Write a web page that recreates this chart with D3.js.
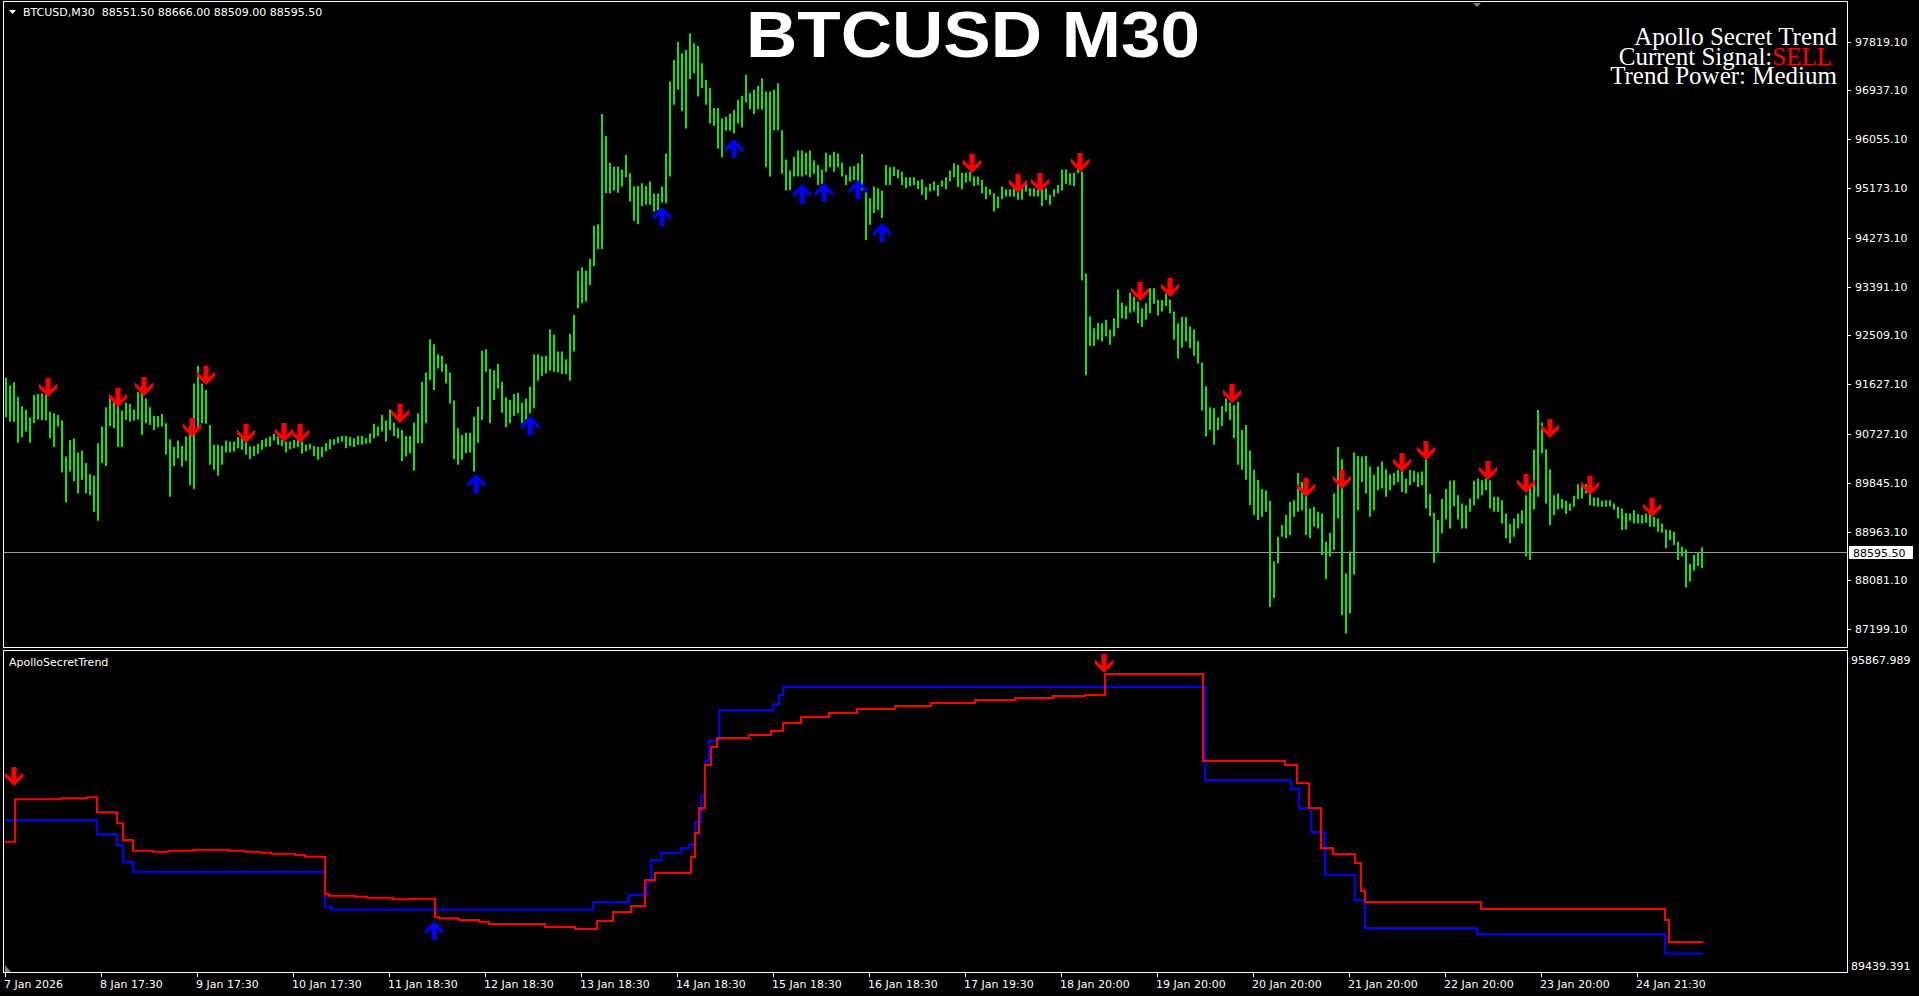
<!DOCTYPE html>
<html><head><meta charset="utf-8">
<script src="https://cdn.jsdelivr.net/npm/d3@7"></script>
<style>html,body{margin:0;padding:0;background:#000;overflow:hidden}</style>
</head><body>
<script>
// ---------------- DATA ----------------
const symbolLine = "BTCUSD,M30  88551.50 88666.00 88509.00 88595.50";
const chartTitle = "BTCUSD M30";
const infoLines = ["Apollo Secret Trend", "Current Signal:", "Trend Power: Medium"];
const signalText = "SELL";
const indicatorName = "ApolloSecretTrend";
const lastPrice = 88595.50;
const priceTicks = [97819.10, 96937.10, 96055.10, 95173.10, 94273.10, 93391.10, 92509.10,
  91627.10, 90727.10, 89845.10, 88963.10, 88081.10, 87199.10];
const indMax = 95867.989, indMin = 89439.391;
const timeLabels = ["7 Jan 2026","8 Jan 17:30","9 Jan 17:30","10 Jan 17:30","11 Jan 18:30",
  "12 Jan 18:30","13 Jan 18:30","14 Jan 18:30","15 Jan 18:30","16 Jan 18:30","17 Jan 19:30",
  "18 Jan 20:00","19 Jan 20:00","20 Jan 20:00","21 Jan 20:00","22 Jan 20:00","23 Jan 20:00","24 Jan 21:30"];
const timeLabelBars = [0,48,96,144,192,240,288,336,384,432,480,528,576,624,672,720,768,816];
const barCount = 850;   // M30 bars; price data below is given per hour (2 bars)

const hi = [
91750,91610,91660,91400,91230,91160,91030,91430,91450,91460,
91460,91130,91100,91070,90970,90320,90620,90650,90390,90430,
90200,90000,89970,90560,90860,91210,91410,91340,91280,91150,
91290,91270,91170,91490,91590,91370,91210,91050,91050,91090,
90920,90630,90490,90610,90510,90680,90860,91640,91960,91640,
91520,90890,90530,90530,90510,90610,90590,90590,90670,90650,
90610,90500,90510,90550,90620,90650,90680,90730,90680,90620,
90590,90590,90620,90650,90590,90530,90550,90510,90490,90490,
90560,90630,90630,90670,90690,90690,90670,90650,90690,90690,
90650,90740,90910,90860,91070,90970,91170,90930,90830,90800,
90690,90690,90930,91100,91670,91840,92440,92350,92170,92140,
91990,91840,91330,90830,90710,90750,90750,91040,91220,92230,
92260,91900,91880,91990,91670,91390,91340,91450,91470,91290,
91370,91580,92170,92170,92130,92140,92620,92520,92220,92220,
92080,92540,92880,93680,93740,93680,93890,94490,94520,96510,
96120,95630,95560,95560,95510,95770,95440,95200,95210,95260,
95210,95290,95080,95080,95200,95800,97100,97490,97820,97610,
97670,97970,97790,97740,97430,97130,96980,96620,96620,96430,
96460,96520,96590,96770,96840,97220,96890,96950,97020,97160,
96920,96920,96950,97070,96220,95690,95490,95740,95850,95850,
95810,95850,95670,95590,95510,95810,95770,95830,95800,95630,
95410,95560,95570,95620,95790,95140,94990,95200,95170,95130,
95590,95550,95560,95510,95470,95370,95370,95370,95310,95330,
95190,95250,95290,95230,95310,95370,95490,95620,95590,95450,
95450,95470,95380,95380,95320,95200,95150,95080,95020,95200,
95150,95150,95200,95110,95200,95270,95170,95170,95150,95200,
95170,95050,95150,95230,95510,95510,95440,95450,95620,95470,
93630,92850,92640,92740,92730,92790,92610,92820,93340,93100,
93040,93280,93210,93120,93000,93090,93360,93360,93150,93150,
93260,93160,92940,92730,92840,92840,92670,92620,92410,92020,
91590,91210,91190,91030,91230,91370,91290,91250,91310,90800,
90890,90430,90080,89900,89730,89710,89520,88420,88870,89080,
89260,89500,89530,90020,89860,89650,89380,89410,89320,89290,
88780,88940,89650,90490,90270,88210,88600,90390,90330,90320,
90330,90140,89990,90140,90230,90090,90000,90020,90080,90230,
89920,90080,90060,90030,90050,90270,89640,89300,89170,89550,
89730,89880,89890,89620,89470,89440,89560,89880,89920,89890,
89920,89890,89590,89590,89530,89290,89100,89200,89290,89350,
89620,89770,90440,91160,90930,90450,90090,89620,89650,89550,
89520,89470,89610,89820,89800,89820,89710,89580,89580,89520,
89530,89530,89470,89410,89380,89300,89290,89350,89280,89260,
89290,89300,89230,89200,89110,89000,88990,88960,88780,88690,
88640,88380,88540,88570,88680];

const lo = [
91030,90950,90950,90570,90670,90770,90570,90920,90990,90980,
90970,90650,90490,90860,90030,89490,90050,89870,89650,89900,
89650,89620,89320,89160,90200,90150,90870,90830,90490,90490,
90980,90950,90970,90990,90710,90920,90890,90800,90850,90860,
90350,89590,90150,90290,90140,90240,89800,89730,90830,90920,
90910,90170,90080,89970,90170,90390,90390,90410,90470,90440,
90350,90270,90330,90370,90440,90490,90500,90610,90530,90510,
90390,90450,90470,90490,90370,90410,90450,90330,90260,90310,
90410,90450,90530,90560,90590,90470,90510,90490,90530,90530,
90550,90560,90650,90690,90770,90590,90800,90690,90650,90240,
90320,90380,90060,90560,90560,90920,91700,91520,91910,91850,
91640,91280,90270,90170,90260,90380,90390,90050,90570,90980,
91850,90920,91340,91550,91110,90850,90920,91050,91100,90920,
90990,91100,91190,91690,91780,91820,91870,91850,91840,91810,
91810,91690,92220,93000,93090,93120,93420,93760,94070,94070,
95080,95080,95130,95090,95200,95370,94930,94580,94520,94850,
94870,94870,94750,94770,94910,94900,95380,96680,96950,96560,
96250,97140,97250,96830,96980,96680,96340,96300,95890,95730,
96210,96210,96160,96340,96270,96720,96600,96510,96600,96590,
95550,95380,96220,96220,95430,95130,95140,95380,95380,95380,
95410,95370,95430,95230,95250,95470,95550,95470,95550,95380,
95230,95290,95320,95260,95140,94230,94510,94720,94780,94630,
95230,95230,95390,95350,95230,95170,95210,95230,95150,95050,
94960,95110,95130,95030,95200,95150,95290,95370,95190,95150,
95270,95290,95210,95230,95080,94970,95050,94750,94810,94970,
95020,95020,95020,94960,94960,95110,95030,95020,95020,94850,
94960,94870,95020,95080,95130,95250,95230,95210,95440,93500,
91790,92320,92320,92430,92400,92490,92340,92490,92640,92820,
92800,92920,92940,92730,92660,92790,92910,93080,92870,92940,
93040,92910,92430,92090,92290,92400,92280,92140,92000,91150,
90680,90800,90530,90800,90870,91130,90980,90650,90170,90080,
89900,89440,89260,89170,89230,89320,87600,87760,88390,88870,
88840,88900,89230,89320,89350,88900,88840,89050,89020,88540,
88100,88510,88630,89200,87450,87120,87480,88180,89350,89860,
89650,89230,89350,89710,89740,89590,89710,89800,89860,89680,
89650,89800,89860,89770,89800,89380,89240,88400,88570,88930,
89180,89020,89420,89180,89020,89020,89320,89440,89550,89620,
89710,89380,89320,89320,89110,88840,88750,88870,89020,89110,
88510,88450,89360,89590,90380,89470,89080,89260,89360,89380,
89280,89340,89410,89550,89560,89650,89440,89420,89410,89410,
89410,89420,89360,89200,88990,89000,89160,89110,89110,89110,
89120,89050,89050,88960,88940,88660,88810,88720,88450,88510,
87950,88060,88260,88340,88300];

// sell / buy arrows on price chart (bar index, price at arrow tip)
const sellBars   = [21,56,69,93,100,120,139,147,197,483,506,517,537,567,582,613,650,668,698,710,741,760,772,792,823];
const sellPrices = [91395,91215,91414,90672,91612,90564,90582,90564,90925,95445,95084,95102,95463,93131,93203,91287,89587,89732,90039,90256,89895,89660,90654,89624,89226];
const buyBars    = [235,262,328,364,398,409,426,438];
const buyPrices  = [90003,91051,94831,96060,95246,95264,95318,94541];

// indicator step lines: [bar where value starts, value]
const redSteps = [[0,92066],[5,92920],[28,92940],[41,92960],[46,92658],[56,92437],[59,92100],[64,91884],
  [74,91864],[82,91884],[94,91904],[112,91884],[120,91864],[128,91844],[133,91824],[145,91798],[150,91764],
  [160,91012],[162,90978],[175,90958],[181,90938],[194,90905],[204,90917],[215,90543],[217,90522],[227,90488],
  [237,90454],[242,90407],[270,90347],[285,90306],[296,90468],[304,90649],[313,90770],[320,91294],[325,91435],
  [343,91757],[345,92241],[347,92745],[350,93611],[353,93974],[356,94155],[372,94216],[383,94296],[389,94457],
  [398,94578],[412,94659],[426,94740],[445,94800],[463,94861],[485,94921],[505,94962],[524,95002],[540,95022],
  [550,95445],[599,93692],[640,93611],[646,93249],[652,92745],[658,91939],[664,91818],
  [675,91637],[678,91072],[680,90851],[738,90710],[830,90488],[832,90045]];
const blueSteps = [[0,92503],[46,92214],[56,92000],[59,91663],[64,91461],[160,90756],[163,90700],[294,90851],
  [312,90992],[321,91274],[323,91697],[328,91838],[338,91939],[342,92009],[345,92463],[348,92997],[350,93692],
  [352,94105],[357,94720],[384,94840],[387,95022],[389,95183],[600,93309],[643,93128],[647,92745],[653,92261],
  [660,91395],[675,90891],[680,90327],[736,90206],[830,89813]];
const indSellBars = [4,549],   indSellVals = [93188,95465];
const indBuyBars  = [214],     indBuyVals  = [90468];

// ---------------- DRAW ----------------
const W = 1919, H = 996;
const C = {bg:"#000", fg:"#fff", bar:"#18de18", red:"#ff0000", blue:"#0000ff", grid:"#9a9a9a"};
const M = {left:4, right:1847, top:2, bottom:647};
const I = {top:650, bottom:972};
const uiFont = "DejaVu Sans, Verdana, sans-serif";

const svg = d3.select("body").append("svg").attr("width", W).attr("height", H)
  .style("display","block").style("background", C.bg);

const x = d3.scaleLinear().domain([0, barCount]).range([5, 5 + 2*barCount]);
const y = d3.scaleLinear().domain([87199.10, 97819.10]).range([629.1, 41.7]);
const yi = d3.scaleLinear().domain([indMin, indMax]).range([I.bottom, I.top + 3]);

// clips
svg.append("clipPath").attr("id","cm").append("rect")
  .attr("x",M.left+1).attr("y",M.top+1).attr("width",M.right-M.left-1).attr("height",M.bottom-M.top-1);
svg.append("clipPath").attr("id","ci").append("rect")
  .attr("x",M.left+1).attr("y",I.top+1).attr("width",M.right-M.left-1).attr("height",I.bottom-I.top-1);

// current price line
svg.append("line").attr("x1",M.left).attr("x2",M.right).attr("y1",Math.round(y(lastPrice))+0.5)
  .attr("y2",Math.round(y(lastPrice))+0.5).attr("stroke",C.grid).attr("stroke-width",1);

// price bars (hourly high-low)
const gm = svg.append("g").attr("clip-path","url(#cm)");
gm.selectAll("line.bar").data(hi).join("line").attr("class","bar")
  .attr("x1",(d,i)=>x(2*i+0.5)).attr("x2",(d,i)=>x(2*i+0.5))
  .attr("y1",d=>y(d)).attr("y2",(d,i)=>Math.max(y(lo[i]), y(d)+1))
  .attr("stroke",C.bar).attr("stroke-width",2);

// arrows (bold MT4-style)
const downArrow = "M0,0 L9,-9 L9,-13.5 L2.6,-7.5 L2.6,-19 L-2.6,-19 L-2.6,-7.5 L-9,-13.5 L-9,-9 Z";
const upArrow = "M0,0 L9,9 L9,13.5 L2.6,7.5 L2.6,19 L-2.6,19 L-2.6,7.5 L-9,13.5 L-9,9 Z";
gm.selectAll("path.sell").data(sellBars).join("path").attr("class","sell")
  .attr("d",downArrow).attr("fill",C.red)
  .attr("transform",(b,i)=>`translate(${x(b+0.5)},${y(sellPrices[i])})`);
gm.selectAll("path.buy").data(buyBars).join("path").attr("class","buy")
  .attr("d",upArrow).attr("fill",C.blue)
  .attr("transform",(b,i)=>`translate(${x(b+0.5)},${y(buyPrices[i])})`);

// indicator lines
const gi = svg.append("g").attr("clip-path","url(#ci)");
const stepLine = d3.line().x(d=>x(d[0])).y(d=>yi(d[1])).curve(d3.curveStepAfter);
function withEnd(s){ return s.concat([[barCount-1, s[s.length-1][1]]]); }
gi.append("path").attr("d",stepLine(withEnd(blueSteps))).attr("fill","none").attr("stroke",C.blue).attr("stroke-width",2);
gi.append("path").attr("d",stepLine(withEnd(redSteps))).attr("fill","none").attr("stroke",C.red).attr("stroke-width",2);
gi.selectAll("path.isell").data(indSellBars).join("path").attr("class","isell")
  .attr("d",downArrow).attr("fill",C.red)
  .attr("transform",(b,i)=>`translate(${x(b+0.5)},${yi(indSellVals[i])})`);
gi.selectAll("path.ibuy").data(indBuyBars).join("path").attr("class","ibuy")
  .attr("d",upArrow).attr("fill",C.blue)
  .attr("transform",(b,i)=>`translate(${x(b+0.5)},${yi(indBuyVals[i])})`);

// panel borders
svg.append("rect").attr("x",M.left-0.5).attr("y",M.top-0.5).attr("width",M.right-M.left+1).attr("height",M.bottom-M.top+1)
  .attr("fill","none").attr("stroke",C.fg).attr("stroke-width",1);
svg.append("rect").attr("x",M.left-0.5).attr("y",I.top+0.5).attr("width",M.right-M.left+1).attr("height",I.bottom-I.top)
  .attr("fill","none").attr("stroke",C.fg).attr("stroke-width",1);

// price axis
const pa = svg.append("g");
pa.selectAll("line").data(priceTicks).join("line")
  .attr("x1",M.right+0.5).attr("x2",M.right+4).attr("y1",d=>Math.round(y(d))+0.5).attr("y2",d=>Math.round(y(d))+0.5)
  .attr("stroke",C.fg);
pa.selectAll("text").data(priceTicks).join("text")
  .attr("x",1855).attr("y",d=>y(d)+4).attr("fill",C.fg).attr("font-family",uiFont).attr("font-size",11)
  .text(d=>d.toFixed(2));
// current price label
const lpY = Math.round(y(lastPrice));
svg.append("rect").attr("x",1849).attr("y",lpY-6).attr("width",64).attr("height",13).attr("fill",C.fg);
svg.append("text").attr("x",1853).attr("y",lpY+4.5).attr("fill","#000").attr("font-family",uiFont).attr("font-size",11)
  .text(lastPrice.toFixed(2));

// indicator axis labels
svg.append("text").attr("x",1851).attr("y",664).attr("fill",C.fg).attr("font-family",uiFont).attr("font-size",11).text(indMax.toFixed(3));
svg.append("text").attr("x",1851).attr("y",970).attr("fill",C.fg).attr("font-family",uiFont).attr("font-size",11).text(indMin.toFixed(3));

// time axis
const ta = svg.append("g");
ta.selectAll("line").data(timeLabelBars).join("line")
  .attr("x1",b=>Math.round(x(b))+0.5).attr("x2",b=>Math.round(x(b))+0.5).attr("y1",I.bottom).attr("y2",I.bottom+5)
  .attr("stroke",C.fg);
ta.selectAll("text").data(timeLabels).join("text")
  .attr("x",(d,i)=>x(timeLabelBars[i])-1).attr("y",988).attr("fill",C.fg)
  .attr("font-family",uiFont).attr("font-size",11).text(d=>d);

// small markers
svg.append("path").attr("d","M5,965 L5,972 L11,972 Z").attr("fill","#808080");
svg.append("path").attr("d","M1473,3 L1481,3 L1477,7 Z").attr("fill","#808080");

// header text
svg.append("path").attr("d","M9,10 L16,10 L12.5,14 Z").attr("fill",C.fg);
svg.append("text").attr("x",23).attr("y",16).attr("fill",C.fg).attr("font-family",uiFont).attr("font-size",11)
  .style("white-space","pre").text(symbolLine);
svg.append("text").attr("x",9).attr("y",666).attr("fill",C.fg).attr("font-family",uiFont).attr("font-size",11)
  .text(indicatorName);

// title
svg.append("text").attr("x",973).attr("y",57).attr("text-anchor","middle").attr("fill",C.fg)
  .attr("font-family","Liberation Sans, Arial, sans-serif").attr("font-weight","bold").attr("font-size",64)
  .attr("textLength",454).attr("lengthAdjust","spacingAndGlyphs").text(chartTitle);

// info block
const serif = "Liberation Serif, Times New Roman, serif";
svg.append("text").attr("x",1837).attr("y",45).attr("text-anchor","end").attr("fill",C.fg)
  .attr("font-family",serif).attr("font-size",25).text(infoLines[0]);
const l2 = svg.append("text").attr("x",1832).attr("y",64.5).attr("text-anchor","end")
  .attr("font-family",serif).attr("font-size",25);
l2.append("tspan").attr("fill",C.fg).text(infoLines[1]);
l2.append("tspan").attr("fill",C.red).text(signalText);
svg.append("text").attr("x",1837).attr("y",84).attr("text-anchor","end").attr("fill",C.fg)
  .attr("font-family",serif).attr("font-size",25).text(infoLines[2]);
</script>
</body></html>
